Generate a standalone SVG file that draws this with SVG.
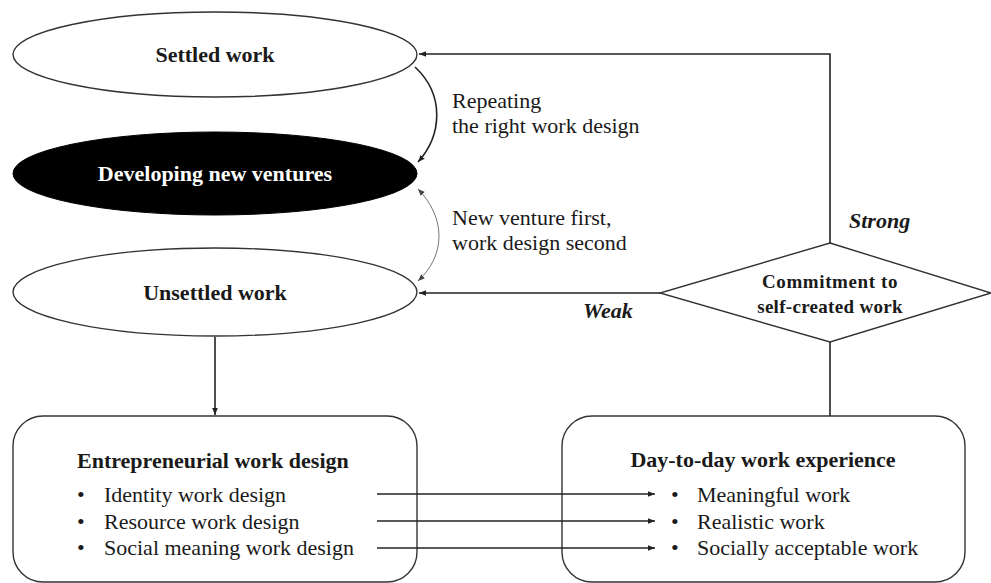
<svg xmlns="http://www.w3.org/2000/svg" width="991" height="583" viewBox="0 0 991 583">
<style>
text{font-family:"Liberation Serif","Times New Roman",serif;fill:#1a1a1a}
.b{font-weight:bold}
.bi{font-weight:bold;font-style:italic}
.t{font-size:22px}
.shape{fill:#fff;stroke:#333;stroke-width:1.4}
.con{fill:none;stroke:#222;stroke-width:1.6}
</style>
<defs>
<marker id="ah" viewBox="0 0 10 10" refX="10" refY="5" markerWidth="7" markerHeight="7" markerUnits="userSpaceOnUse" orient="auto-start-reverse"><path d="M0,1 L10,5 L0,9 Z" fill="#222"/></marker>
<marker id="ahg" viewBox="0 0 10 10" refX="10" refY="5" markerWidth="7" markerHeight="7" markerUnits="userSpaceOnUse" orient="auto-start-reverse"><path d="M0,1 L10,5 L0,9 Z" fill="#444"/></marker>
</defs>
<rect width="991" height="583" fill="#fff"/>
<g id="settled">
<ellipse class="shape" cx="215" cy="54.5" rx="202" ry="42.5"/>
<text class="b t" x="215" y="62" text-anchor="middle">Settled work</text>
</g>
<g id="developing">
<ellipse cx="215" cy="173.5" rx="202" ry="41.5" fill="#000" stroke="#000"/>
<text class="b t" x="215" y="181" text-anchor="middle" style="fill:#fff">Developing new ventures</text>
</g>
<g id="unsettled">
<ellipse class="shape" cx="215" cy="292" rx="202" ry="44"/>
<text class="b t" x="215" y="300" text-anchor="middle">Unsettled work</text>
</g>
<g id="label-repeating">
<text class="t" x="452" y="108">Repeating</text>
<text class="t" x="452" y="133">the right work design</text>
</g>
<g id="label-newventure">
<text class="t" x="452" y="225">New venture first,</text>
<text class="t" x="452" y="250">work design second</text>
</g>
<g id="commitment">
<polygon class="shape" points="830,243 991,293 830,342 660,293"/>
<text class="b" x="830" y="288" text-anchor="middle" font-size="19" letter-spacing="0.6">Commitment to</text>
<text class="b" x="830" y="313" text-anchor="middle" font-size="19" letter-spacing="0.3">self-created work</text>
</g>
<g id="label-strong"><text class="bi" x="849" y="228" font-size="22">Strong</text></g>
<g id="label-weak"><text class="bi" x="583" y="318" font-size="22">Weak</text></g>
<g id="entrepreneurial">
<rect class="shape" x="13" y="416" width="404" height="166" rx="30" ry="30"/>
<text class="b t" x="77" y="468">Entrepreneurial work design</text>
<text class="t" x="77" y="502">•</text><text class="t" x="104" y="502">Identity work design</text>
<text class="t" x="77" y="529">•</text><text class="t" x="104" y="529">Resource work design</text>
<text class="t" x="77" y="555">•</text><text class="t" x="104" y="555">Social meaning work design</text>
</g>
<g id="daytoday">
<rect class="shape" x="562" y="416" width="403" height="166" rx="30" ry="30"/>
<text class="b t" x="763" y="467" text-anchor="middle">Day-to-day work experience</text>
<text class="t" x="671" y="502">•</text><text class="t" x="697" y="502">Meaningful work</text>
<text class="t" x="671" y="529">•</text><text class="t" x="697" y="529">Realistic work</text>
<text class="t" x="671" y="555">•</text><text class="t" x="697" y="555">Socially acceptable work</text>
</g>
<g id="connectors">
<path class="con" d="M830,243 L830,54 L419,54" marker-end="url(#ah)"/>
<path class="con" d="M660,293 L419,293" marker-end="url(#ah)"/>
<path class="con" d="M830,342 L830,416"/>
<path class="con" d="M215,337 L215,415" marker-end="url(#ah)"/>
<path class="con" d="M415,67 C445,95 442,135 418,162" marker-end="url(#ah)"/>
<path d="M418,189 C446,218 446,255 418,281" fill="none" stroke="#666" stroke-width="0.9" marker-start="url(#ahg)" marker-end="url(#ahg)"/>
<path class="con" d="M377,494 L655,494" marker-end="url(#ah)"/>
<path class="con" d="M377,521 L655,521" marker-end="url(#ah)"/>
<path class="con" d="M377,548 L655,548" marker-end="url(#ah)"/>
</g>
</svg>
